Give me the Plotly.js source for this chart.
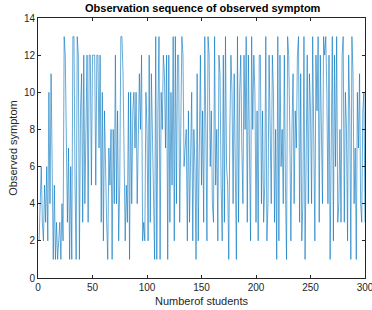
<!DOCTYPE html>
<html><head><meta charset="utf-8">
<script src="https://cdn.plot.ly/plotly-3.0.1.min.js"></script>
<style>html,body{margin:0;padding:0;background:#fff}#c{width:372px;height:310px}</style>
</head><body><div id="c"></div>
<script>
const seg1 = [2,4,6,3,2,5,3,6,2,10,4,11,5,1,5,1,3,1,2,3,1,4,2,13,12];
const seg2 = [7,3,7,1,6,1,13,13,5,1,13,12,1,9,11,3,12,4,8,12,3,12,12,5,12];
const seg3 = [12,12,5,12,12,7,12,3,10,2,9,5,3,1,7,5,8,1,8,4,12,4,9,2,5];
const seg4 = [13,13,11,7,2,5,3,10,1,10,4,9,10,7,10,4,9,11,8,12,2,3,2,10,8];
const seg5 = [2,12,3,11,8,4,1,13,1,9,13,1,10,8,12,11,7,12,1,12,3,10,5,13,2];
const seg6 = [13,4,12,12,3,9,13,12,6,7,8,2,9,3,7,10,2,8,6,1,11,2,7,12,5];
const seg7 = [9,3,13,8,2,13,12,6,9,4,3,13,5,8,2,12,11,5,2,12,3,13,6,5,1];
const seg8 = [8,12,10,4,11,7,1,13,3,10,12,7,4,12,8,13,3,12,6,2,13,8,12,10,3];
const seg9 = [9,2,12,12,4,9,3,5,13,2,4,12,8,4,12,10,3,8,1,13,2,12,6,8,4];
const seg10 = [12,5,1,13,12,8,2,8,11,4,9,7,12,13,3,11,2,4,13,1,6,12,4,11,9];
const seg11 = [4,13,6,2,12,9,13,3,12,6,4,13,12,13,10,4,12,1,9,13,2,12,6,13,3];
const seg12 = [4,8,3,12,13,3,10,8,2,12,9,1,13,11,4,7,1,10,7,11,4,3,9,10,3];
const symptoms = [].concat(seg1,seg2,seg3,seg4,seg5,seg6,seg7,seg8,seg9,seg10,seg11,seg12);
const students = symptoms.map((_, i) => i + 1);
const xTicks = [0,50,100,150,200,250,300];
const yTicks = [0,2,4,6,8,10,12,14];

const axisCommon = {
  showline: true, linecolor: '#262626', linewidth: 1, mirror: 'allticks',
  ticks: 'inside', ticklen: 3, tickcolor: '#262626', tickwidth: 1,
  showgrid: false, zeroline: false, ticklabeloverflow: 'allow',
  tickfont: {family: 'Liberation Sans, Arial, sans-serif', size: 10, color: '#262626'}
};
Plotly.newPlot('c', [{
  x: students, y: symptoms, type: 'scatter', mode: 'lines',
  line: {color: '#0072BD', width: 0.6}
}], {
  width: 372, height: 310,
  margin: {l: 38, r: 7, t: 18, b: 32},
  paper_bgcolor: '#fff', plot_bgcolor: '#fff',
  showlegend: false,
  title: {text: '<b>Observation sequence of observed symptom</b>', x: 0.545, xanchor: 'center', y: 0.985, yanchor: 'top',
    font: {family: 'Liberation Sans, Arial, sans-serif', size: 11, color: '#000'}},
  xaxis: Object.assign({}, axisCommon, {range: [0, 300], tickvals: xTicks,
    title: {text: 'Numberof students', standoff: 5, font: {family: 'Liberation Sans, Arial, sans-serif', size: 11, color: '#262626'}}}),
  yaxis: Object.assign({}, axisCommon, {range: [0, 14], tickvals: yTicks,
    title: {text: 'Observed symptom', standoff: 4, font: {family: 'Liberation Sans, Arial, sans-serif', size: 11, color: '#262626'}}})
}, {displayModeBar: false, staticPlot: true});
</script></body></html>
